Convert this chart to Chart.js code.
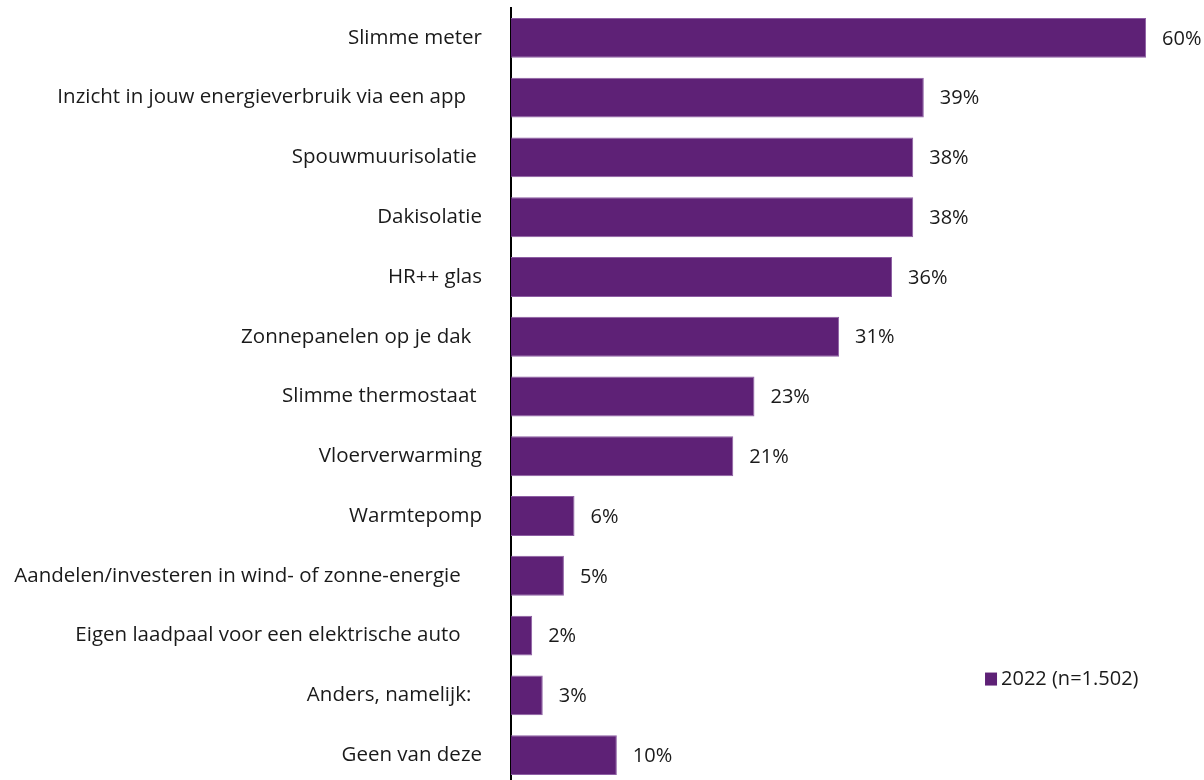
<!DOCTYPE html>
<html>
<head>
<meta charset="utf-8">
<script src="https://cdn.jsdelivr.net/npm/chart.js@4"></script>
<style>
  html, body { margin: 0; padding: 0; background: #fff; overflow: hidden; }
  #wrap { position: relative; width: 1204px; height: 790px; }
</style>
</head>
<body>
<div id="wrap"><canvas id="chart"></canvas></div>
<script>
// Survey answers (share of respondents, %)
const categories = [
  'Slimme meter',
  'Inzicht in jouw energieverbruik via een app   ',
  'Spouwmuurisolatie ',
  'Dakisolatie',
  'HR++ glas',
  'Zonnepanelen op je dak  ',
  'Slimme thermostaat ',
  'Vloerverwarming',
  'Warmtepomp',
  'Aandelen/investeren in wind- of zonne-energie    ',
  'Eigen laadpaal voor een elektrische auto    ',
  'Anders, namelijk:  ',
  'Geen van deze'
];
const values2022 = [60, 39, 38, 38, 36, 31, 23, 21, 6, 5, 2, 3, 10];
const seriesLabel = '2022 (n=1.502)';

const FONT = '"Open Sans", sans-serif';
const PURPLE = '#5e2176';
const TEXT = '#1a1a1a';

// Value labels to the right of each bar
const valueLabels = {
  id: 'valueLabels',
  afterDatasetsDraw(chart) {
    const ctx = chart.ctx;
    const meta = chart.getDatasetMeta(0);
    ctx.save();
    ctx.font = '20px ' + FONT;
    ctx.fillStyle = TEXT;
    ctx.textAlign = 'left';
    ctx.textBaseline = 'middle';
    meta.data.forEach((bar, i) => {
      ctx.fillText(chart.data.datasets[0].data[i] + '%', bar.x + 16, bar.y + 1);
    });
    ctx.restore();
  }
};

// Legend placed inside the plot area, lower right
const floatingLegend = {
  id: 'floatingLegend',
  afterDraw(chart, args, opts) {
    const ctx = chart.ctx;
    const area = chart.chartArea;
    const ds = chart.data.datasets[0];
    const x = area.left + (area.right - area.left) * opts.fx;
    const y = area.top + (area.bottom - area.top) * opts.fy;
    ctx.save();
    ctx.fillStyle = ds.backgroundColor;
    ctx.fillRect(x, y - 6, 12, 13);
    ctx.font = '20px ' + FONT;
    ctx.fillStyle = TEXT;
    ctx.textAlign = 'left';
    ctx.textBaseline = 'middle';
    ctx.fillText(ds.label, x + 16, y + 1);
    ctx.restore();
  }
};

new Chart(document.getElementById('chart'), {
  type: 'bar',
  data: {
    labels: categories,
    datasets: [{
      label: seriesLabel,
      data: values2022,
      backgroundColor: PURPLE,
      borderColor: '#8d5ea3',
      borderWidth: 1,
      barPercentage: 0.667,
      categoryPercentage: 1
    }]
  },
  options: {
    indexAxis: 'y',
    responsive: true,
    maintainAspectRatio: false,
    animation: false,
    layout: { padding: { top: 8, bottom: 5, left: 0, right: 5 } },
    plugins: {
      legend: { display: false },
      tooltip: { enabled: false },
      floatingLegend: { fx: 0.689, fy: 0.863 }
    },
    scales: {
      x: {
        display: false,
        min: 0,
        max: 65
      },
      y: {
        afterFit(scale) {
          scale.width = 511;
          scale.paddingTop = 0;
          scale.paddingBottom = 0;
        },
        grid: { display: false, drawTicks: false },
        border: { display: true, color: '#000', width: 2 },
        ticks: {
          color: TEXT,
          padding: 29,
          font: { family: FONT, size: 20.5 }
        }
      }
    }
  },
  plugins: [valueLabels, floatingLegend]
});
</script>
</body>
</html>
